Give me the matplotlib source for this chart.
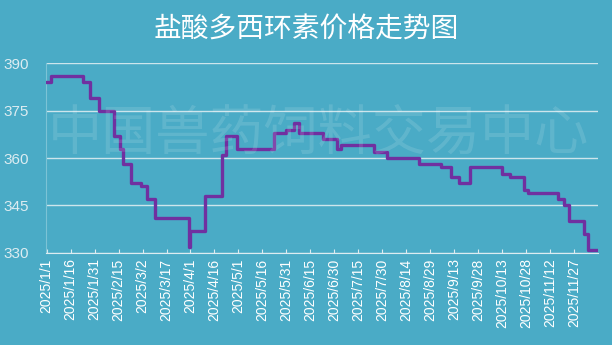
import pandas as pd
import matplotlib.pyplot as plt

plt.rcParams['font.family'] = ['Noto Sans CJK SC', 'DejaVu Sans']

# price change points (date, price) - held until next change
change_dates = ['2025-01-01', '2025-01-04', '2025-01-24', '2025-01-28', '2025-02-03',
                '2025-02-12', '2025-02-16', '2025-02-18', '2025-02-23', '2025-03-01',
                '2025-03-05', '2025-03-10', '2025-03-31', '2025-04-01', '2025-04-10',
                '2025-04-21', '2025-04-23', '2025-04-30', '2025-05-23', '2025-05-31',
                '2025-06-05', '2025-06-08', '2025-06-23', '2025-07-02', '2025-07-04',
                '2025-07-25', '2025-08-02', '2025-08-22', '2025-09-05', '2025-09-11',
                '2025-09-16', '2025-09-23', '2025-10-13', '2025-10-18', '2025-10-27',
                '2025-10-29', '2025-11-17', '2025-11-21', '2025-11-24', '2025-12-03',
                '2025-12-06', '2025-12-12']
prices = [384, 386, 384, 379, 375,
          367, 363, 358, 352, 351,
          347, 341, 332, 337, 348,
          361, 367, 363, 368, 369,
          371, 368, 366, 363, 364,
          362, 360, 358, 357, 354,
          352, 357, 355, 354, 350,
          349, 347, 345, 340, 336,
          331, 331]

tick_labels = ['2025/1/1', '2025/1/16', '2025/1/31', '2025/2/15', '2025/3/2', '2025/3/17',
               '2025/4/1', '2025/4/16', '2025/5/1', '2025/5/16', '2025/5/31', '2025/6/15',
               '2025/6/30', '2025/7/15', '2025/7/30', '2025/8/14', '2025/8/29', '2025/9/13',
               '2025/9/28', '2025/10/13', '2025/10/28', '2025/11/12', '2025/11/27']
y_ticks = [330, 345, 360, 375, 390]

bg = '#4aabc6'
light = '#dcecf1'

start = pd.Timestamp('2025-01-01')
days = [(pd.Timestamp(d) - start).days for d in change_dates]
tick_days = [(pd.to_datetime(t, format='%Y/%m/%d') - start).days for t in tick_labels]

fig = plt.figure(figsize=(6.12, 3.45), dpi=100, facecolor=bg)
ax = fig.add_axes([0.075, 0.267, 0.902, 0.55])
ax.set_facecolor(bg)

ax.plot(days, prices, drawstyle='steps-post', color='#7030a0', lw=2.4, zorder=3)

ax.set_ylim(330, 390)
ax.set_xlim(-0.5, 345)
ax.set_yticks(y_ticks)
ax.set_xticks(tick_days)
ax.set_xticklabels(tick_labels, rotation=90, fontsize=10, color='white',
                   family=['Liberation Sans', 'DejaVu Sans'])
ax.set_yticklabels([str(v) for v in y_ticks], fontsize=11, color=light,
                   family=['Liberation Sans', 'DejaVu Sans'])
ax.tick_params(axis='y', length=0, pad=12)
ax.tick_params(axis='x', direction='in', length=3, color=light, pad=4)

ax.grid(axis='y', color=light, lw=1, alpha=0.9)
ax.set_axisbelow(True)
for s in ['top', 'right']:
    ax.spines[s].set_visible(False)
ax.spines['left'].set_color('#7cc3d6')
ax.spines['bottom'].set_color(light)

fig.text(0.5, 0.915, '盐酸多西环素价格走势图', ha='center', va='center',
         fontsize=20, color='white', weight='medium')
fig.text(0.52, 0.61, '中国兽药饲料交易中心', ha='center', va='center',
         fontsize=39, color='white', alpha=0.12)

fig.savefig('out.png', dpi=100, facecolor=bg)
